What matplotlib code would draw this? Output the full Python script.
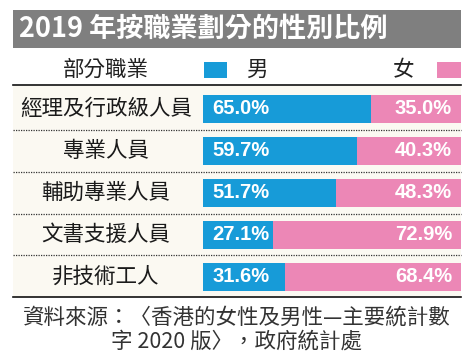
import matplotlib
matplotlib.use("Agg")
import matplotlib.pyplot as plt
import matplotlib.transforms as mtransforms
from matplotlib.patches import Rectangle

plt.rcParams['font.family'] = ['Noto Sans CJK TC', 'DejaVu Sans']

title = '2019 年按職業劃分的性別比例'
header = '部分職業'
categories = ['經理及行政級人員', '專業人員', '輔助專業人員', '文書支援人員', '非技術工人']
male = [65.0, 59.7, 51.7, 27.1, 31.6]
female = [35.0, 40.3, 48.3, 72.9, 68.4]
source_lines = ['資料來源：〈香港的女性及男性—主要統計數', '字 2020 版〉，政府統計處']

blue = '#179bd8'
pink = '#ec87b6'
cream = '#fbf9f2'

W, H = 474, 359
fig = plt.figure(figsize=(W / 100, H / 100), dpi=100)
fig.patch.set_facecolor('white')

# layout axes in pixel coordinates
bg = fig.add_axes([0, 0, 1, 1])
bg.set_xlim(0, W)
bg.set_ylim(H, 0)
bg.axis('off')

bg.add_patch(Rectangle((13, 10), 448, 38, color='#7f7f7f', lw=0))
bg.text(19, 29, title, color='white', fontsize=19.5, fontweight='bold', va='center', ha='left')

bg.text(106, 70, header, fontsize=15.5, va='center', ha='center', color='#222222')
bg.add_patch(Rectangle((204, 62), 23, 16, color=blue, lw=0))
bg.text(257, 70, '男', fontsize=15.5, va='center', ha='center', color='#222222')
bg.text(404, 70, '女', fontsize=15.5, va='center', ha='center', color='#222222')
bg.add_patch(Rectangle((437, 62), 24, 16, color=pink, lw=0))

bg.add_patch(Rectangle((13, 86), 448, 211, color=cream, lw=0))
bg.plot([13, 461], [85, 85], color='#111111', lw=1.2)
bg.plot([13, 461], [297, 297], color='#111111', lw=1.2)
for yy in [130, 172, 214, 255]:
    bg.plot([13, 461], [yy, yy], color='#333333', lw=0.9, ls=(0, (1, 1)))

for k, line in enumerate(source_lines):
    bg.text(237, 318 + 24 * k, line, fontsize=15.5, va='center', ha='center', color='#333333')

# bar axes
ax = fig.add_axes([203 / W, 1 - 298 / H, 258 / W, 210 / H])
ax.set_xlim(0, 100)
ax.set_ylim(len(categories) - 0.5, -0.5)
ax.axis('off')
ax.patch.set_alpha(0)

ypos = list(range(len(categories)))
ax.barh(ypos, male, height=0.68, color=blue, lw=0)
ax.barh(ypos, female, left=male, height=0.68, color=pink, lw=0)

trans = mtransforms.blended_transform_factory(fig.transFigure, ax.transData)
for i, cat in enumerate(categories):
    ax.text(106 / W, i, cat, transform=trans, fontsize=15.5, ha='center', va='center',
            color='#1a1a1a')
    ax.text(3.5, i, '%.1f%%' % male[i], color='white', fontsize=14.5, fontweight='bold',
            ha='left', va='center', family='Liberation Sans')
    ax.text(96.5, i, '%.1f%%' % female[i], color='white', fontsize=14.5, fontweight='bold',
            ha='right', va='center', family='Liberation Sans')

fig.savefig('out.png', dpi=100)
